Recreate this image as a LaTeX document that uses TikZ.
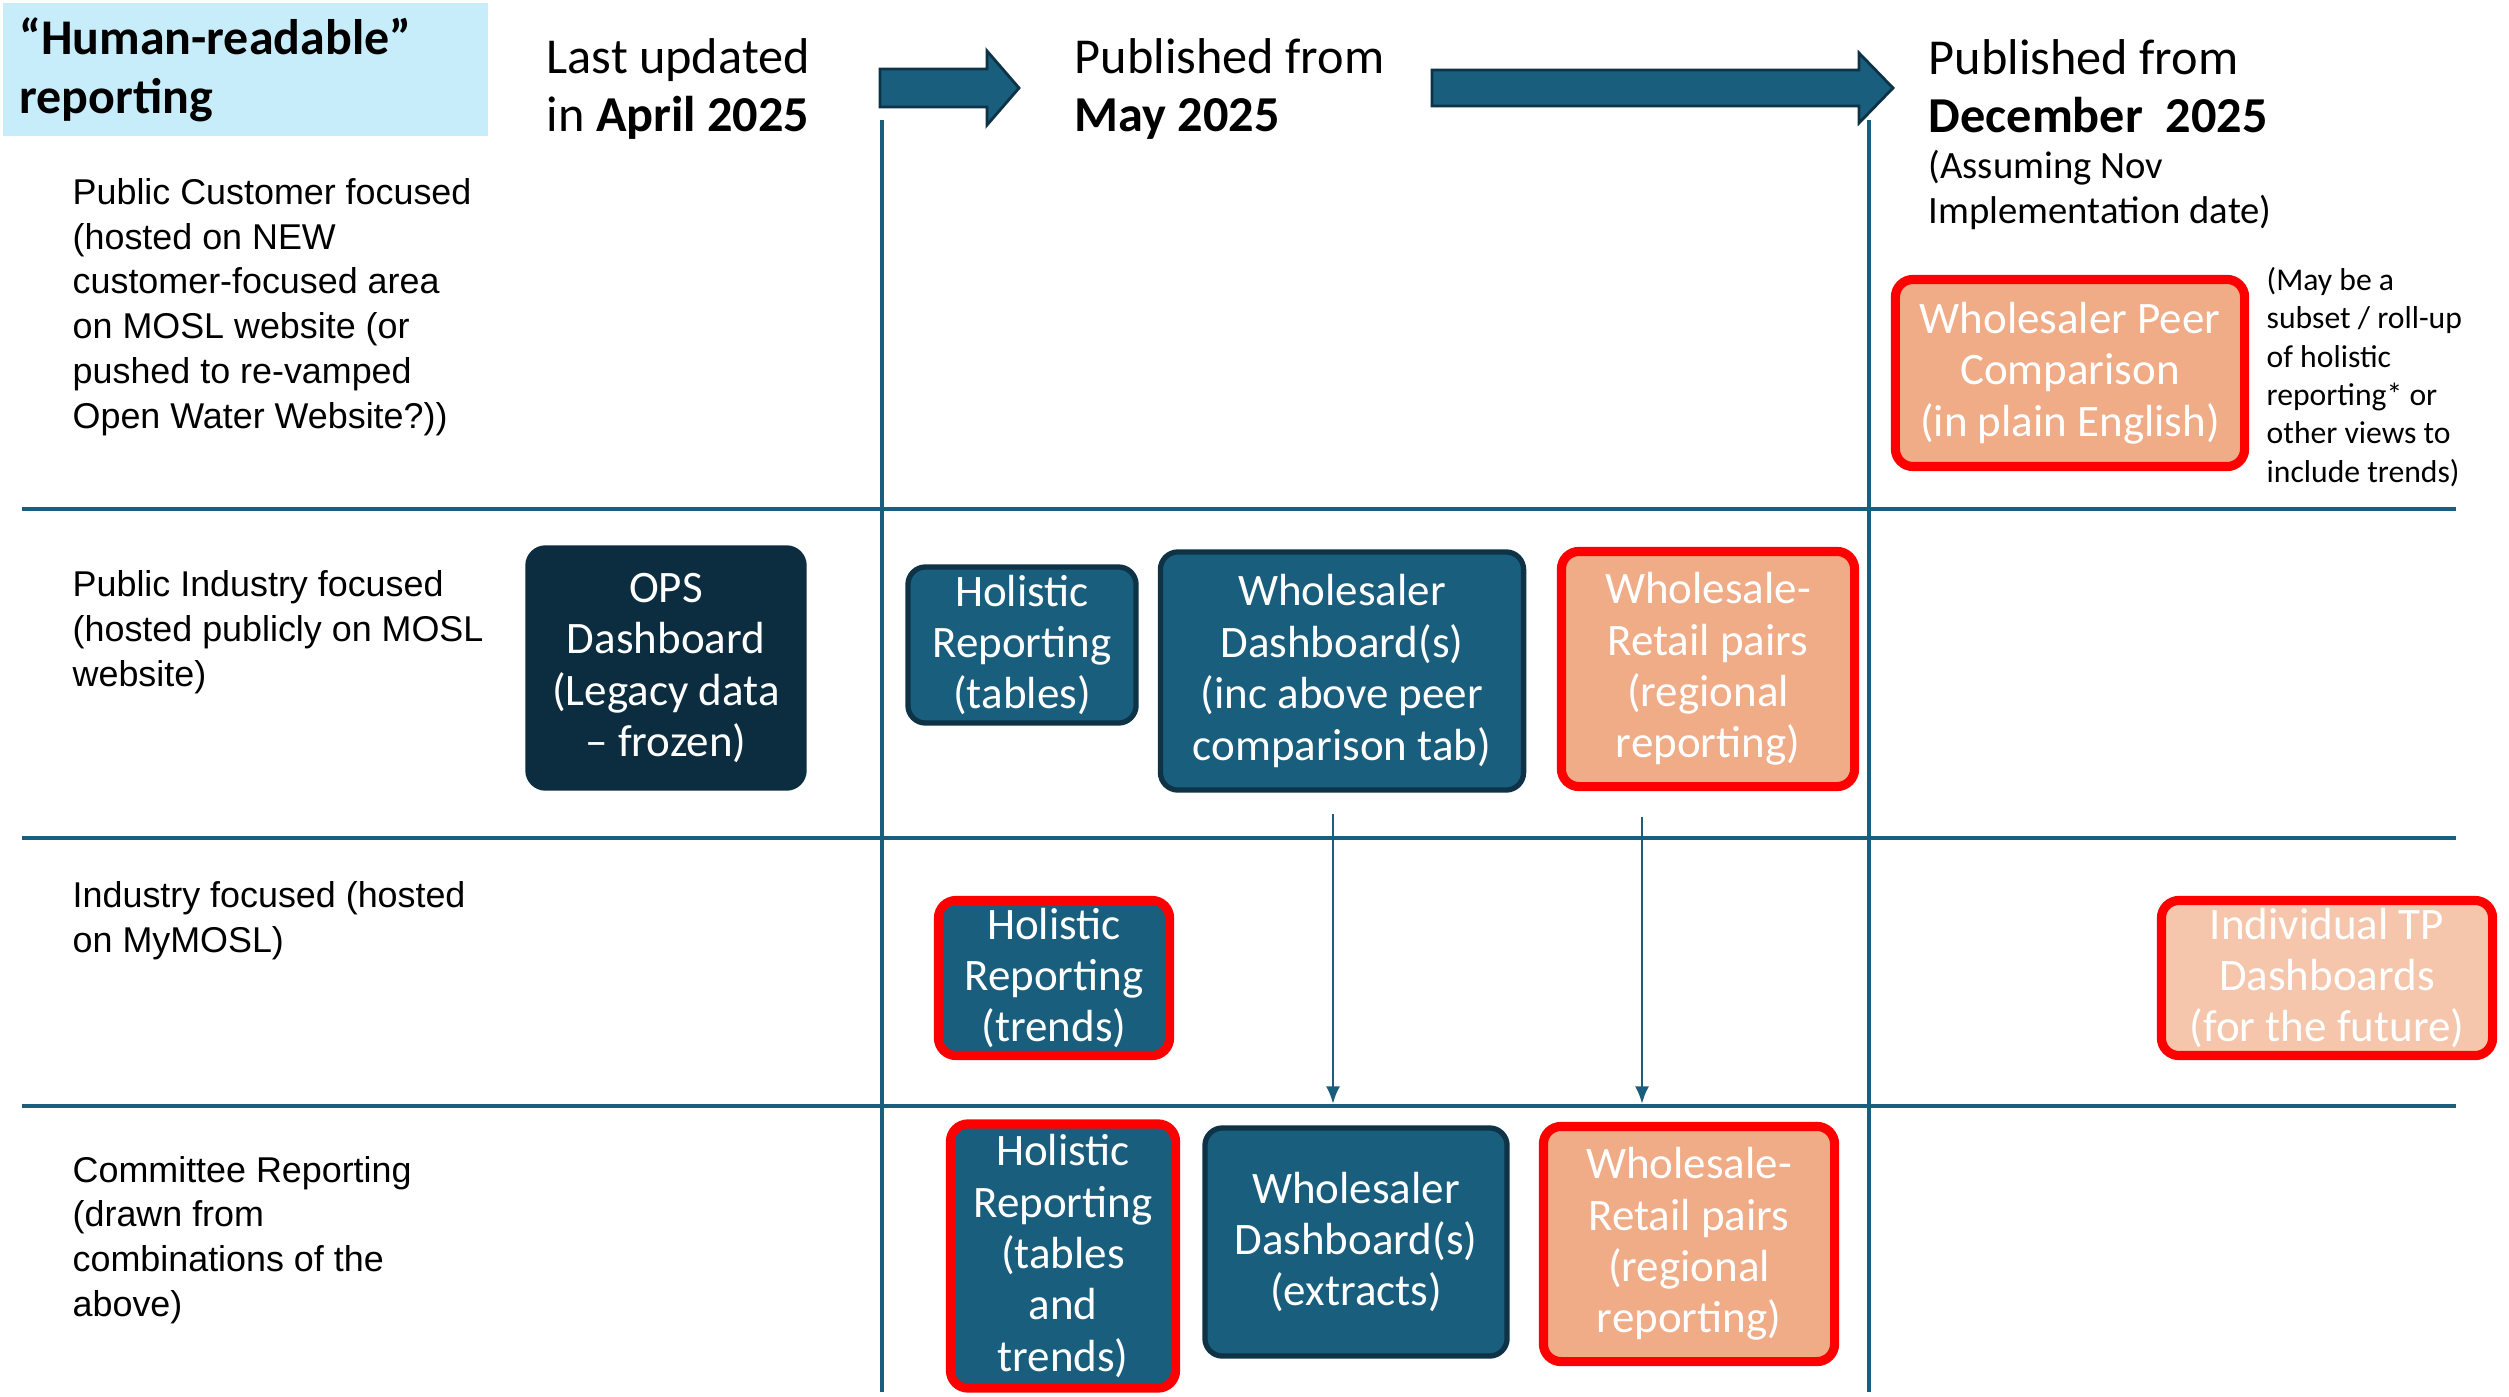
\documentclass[tikz,border=0pt]{standalone}
\usepackage{fontspec}
\setmainfont{Carlito}
\newfontfamily\lblfamily{Liberation Sans}
\usetikzlibrary{arrows.meta,calc}
\definecolor{boxblue}{RGB}{26,94,126}
\definecolor{boxdark}{RGB}{14,50,70}
\definecolor{opsfill}{RGB}{12,45,63}
\definecolor{salmon}{RGB}{240,171,135}
\definecolor{lightsalmon}{RGB}{245,198,172}
\definecolor{titleblue}{RGB}{199,236,250}
\definecolor{linecol}{RGB}{26,94,126}
\newcommand\bxfont{\fontsize{12.8}{14.6}\selectfont}
\newcommand\hdrfont{\fontsize{14.3}{16.5}\selectfont}
\newcommand\subfont{\fontsize{11}{12.7}\selectfont}
\newcommand\notefont{\fontsize{9}{10.9}\selectfont}
\newcommand\lblfont{\lblfamily\fontsize{10.2}{12.75}\selectfont}
\begin{document}
\begin{tikzpicture}[x=0.01cm,y=-0.01cm,
  boxbase/.style={rounded corners=5pt, align=center, inner sep=0pt, font=\bxfont, text=white},
  bluebox/.style={boxbase, fill=boxblue, draw=boxdark, line width=1.5pt},
  opsbox/.style={boxbase, fill=opsfill, draw=opsfill, line width=1.5pt},
  redblue/.style={boxbase, fill=boxblue, draw=red, line width=2.6pt},
  redsalmon/.style={boxbase, fill=salmon, draw=red, line width=2.6pt},
  redlight/.style={boxbase, fill=lightsalmon, draw=red, line width=2.6pt},
  hdr/.style={align=left, inner sep=0pt, font=\hdrfont, anchor=west},
  subtxt/.style={align=left, inner sep=0pt, font=\subfont, anchor=west},
  notetxt/.style={align=left, inner sep=0pt, font=\notefont, anchor=west},
  rowlbl/.style={align=left, inner sep=0pt, font=\lblfont, anchor=west},
  gridline/.style={draw=linecol, line width=1.2pt},
  timeline/.style={draw=linecol, line width=0.9pt},
  conn/.style={draw=linecol, line width=0.8pt, -{Latex[length=5pt,width=4pt]}},
  bigarrow/.style={fill=boxblue, draw=boxdark, line width=0.8pt}
]
\useasboundingbox (0,0) rectangle (2509,1397);

% title
\node[fill=titleblue, minimum width=48.5mm, minimum height=13.3mm, text width=45.2mm,
      align=left, inner sep=0pt, font={\fontsize{14.2}{16.8}\selectfont\bfseries}] (title)
  at (245.5,69.5) {\raisebox{-0.4mm}{“Human-readable”}\\\raisebox{-0.4mm}{reporting}};

% headers
\node[hdr] (h1) at (546,89) {Last updated\\in \textbf{April 2025}};
\node[hdr] (h2) at (1074,89) {Published from\\\textbf{May 2025}};
\node[hdr] (h3) at (1928,86) {Published from\\\textbf{December\ \ 2025}};
\node[subtxt] (h3s) at (1928,190) {(Assuming Nov\\Implementation date)};

% big arrows
\draw[bigarrow] (880,69) -- (987,69) -- (987,51) -- (1019,88) -- (987,125) -- (987,107) -- (880,107) -- cycle;
\draw[bigarrow] (1432,70) -- (1859,70) -- (1859,53) -- (1893,88) -- (1859,123) -- (1859,106) -- (1432,106) -- cycle;

% grid
\coordinate (hl1) at (22,509);
\coordinate (hl2) at (22,838);
\coordinate (hl3) at (22,1106);
\draw[gridline] (hl1) -- (2456,509);
\draw[gridline] (hl2) -- (2456,838);
\draw[gridline] (hl3) -- (2456,1106);
\draw[timeline] (882,120) -- (882,1392);
\draw[timeline] (1869,120) -- (1869,1392);

% row labels
\node[rowlbl] (r1) at (72,307) {Public Customer focused\\(hosted on NEW\\customer-focused area\\on MOSL website (or\\pushed to re-vamped\\Open Water Website?))};
\node[rowlbl] (r2) at (72,632) {Public Industry focused\\(hosted publicly on MOSL\\website)};
\node[rowlbl] (r3) at (72,921) {Industry focused (hosted\\on MyMOSL)};
\node[rowlbl] (r4) at (72,1240) {Committee Reporting\\(drawn from\\combinations of the\\above)};

% row 1
\node[redsalmon, minimum width=34.9mm, minimum height=18.7mm] (wpc) at (2070,373) {Wholesaler Peer\\Comparison\\(in plain English)};
\node[notetxt] (note) at (2266,377) {(May be a\\subset / roll-up\\of holistic\\reporting* or\\other views to\\include trends)};

% row 2
\node[opsbox, minimum width=27.6mm, minimum height=24mm] (ops) at (666,668) {OPS\\Dashboard\\(Legacy data\\– frozen)};
\node[bluebox, minimum width=22.8mm, minimum height=15.6mm] (hrt) at (1022,645) {Holistic\\Reporting\\(tables)};
\node[bluebox, minimum width=36.3mm, minimum height=23.8mm] (wd) at (1342,671) {Wholesaler\\Dashboard(s)\\(inc above peer\\comparison tab)};
\node[redsalmon, minimum width=29.3mm, minimum height=23.5mm] (wr1) at (1708,669) {Wholesale-\\Retail pairs\\(regional\\reporting)};

% row 3
\node[redblue, minimum width=23.1mm, minimum height=15.5mm] (hrtr) at (1054,978) {Holistic\\Reporting\\(trends)};
\node[redlight, minimum width=33.1mm, minimum height=15.5mm] (itp) at (2327,978) {Individual TP\\Dashboards\\(for the future)};

% row 4
\node[redblue, minimum width=22.5mm, minimum height=26.4mm] (hrtt) at (1063,1256) {Holistic\\Reporting\\(tables\\and\\trends)};
\node[bluebox, minimum width=30.2mm, minimum height=22.8mm] (wde) at (1356,1242) {Wholesaler\\Dashboard(s)\\(extracts)};
\node[redsalmon, minimum width=29.1mm, minimum height=23.5mm] (wr2) at (1689,1244) {Wholesale-\\Retail pairs\\(regional\\reporting)};

% connectors
\path ($(wd.south)+(-9,21)$) coordinate (a1s);
\path ($(wr1.south)+(-66,26)$) coordinate (a2s);
\draw[conn] (a1s) -- ($(a1s |- hl3)+(0,-2)$);
\draw[conn] (a2s) -- ($(a2s |- hl3)+(0,-2)$);
\end{tikzpicture}
\end{document}
